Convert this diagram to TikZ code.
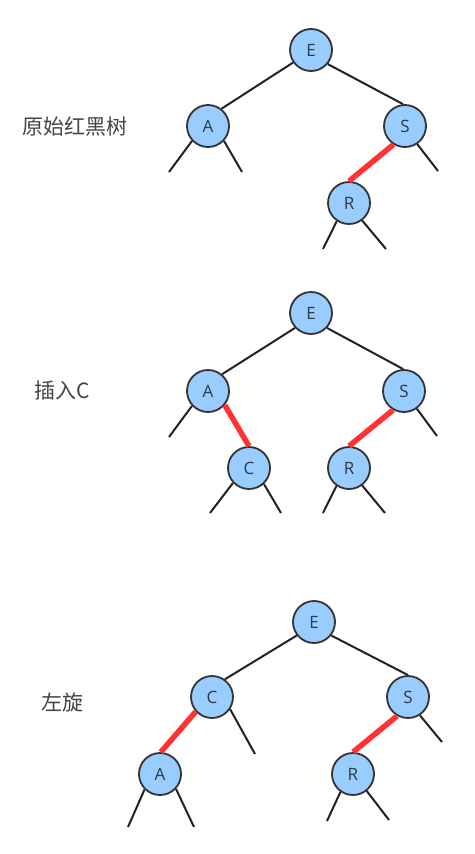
\documentclass[tikz,border=0pt]{standalone}
\usepackage{fontspec}
\setmainfont{Open Sans}
\newfontfamily\cjk{Noto Sans CJK SC}
\newfontfamily\letterfont{Open Sans}
\definecolor{nodefill}{HTML}{99CCFF}
\definecolor{nodeborder}{HTML}{333333}
\definecolor{txt}{HTML}{2E3A46}
\definecolor{edgecol}{HTML}{222222}
\definecolor{redlink}{HTML}{FF3333}
\definecolor{labelcol}{HTML}{444444}
\tikzset{
  rbnode/.style={circle, draw=nodeborder, fill=nodefill, line width=1.8pt,
    minimum size=42pt, inner sep=0pt, text=txt, font=\letterfont\fontsize{17}{19}\selectfont},
  blackedge/.style={draw=edgecol, line width=2pt},
  rededge/.style={draw=redlink, line width=5.5pt},
  caption/.style={text=labelcol, font=\cjk\fontsize{21}{24}\selectfont, inner sep=0pt}
}
\begin{document}
\begin{tikzpicture}[x=1pt,y=-1pt]
\useasboundingbox (0,0) rectangle (474,854);
\fill[white] (0,0) rectangle (474,854);

% ---------- labels ----------
\node[caption] (l1) at (75,127) {原始红黑树};
\node[caption] (l2) at (62,391) {插入C};
\node[caption] (l3) at (62,702) {左旋};

% ---------- tree 1 ----------
\node[rbnode] (e1) at (311,50) {E};
\node[rbnode] (a1) at (208,126) {A};
\node[rbnode] (s1) at (405,126) {S};
\node[rbnode] (r1) at (349,203) {R};
\coordinate (a1l) at (169,172);
\coordinate (a1r) at (242,172);
\coordinate (s1r) at (438,171);
\coordinate (r1l) at (323,249);
\coordinate (r1r) at (386,249);
\draw[blackedge] (e1.215) -- (a1.52);
\draw[blackedge] (e1.-40) -- (s1.95);
\draw[rededge] (s1.238) -- (r1.north);
\draw[blackedge] (a1.223) -- (a1l);
\draw[blackedge] (a1.-43) -- (a1r);
\draw[blackedge] (s1.-56) -- (s1r);
\draw[blackedge] (r1.236) -- (r1l);
\draw[blackedge] (r1.-53) -- (r1r);

% ---------- tree 2 ----------
\node[rbnode] (e2) at (311,313) {E};
\node[rbnode] (a2) at (208,391) {A};
\node[rbnode] (s2) at (404,391) {S};
\node[rbnode] (c2) at (249,468) {C};
\node[rbnode] (r2) at (349,468) {R};
\coordinate (a2l) at (169,437);
\coordinate (s2r) at (437,436);
\coordinate (c2l) at (210,513);
\coordinate (c2r) at (281,513);
\coordinate (r2l) at (323,513);
\coordinate (r2r) at (385,513);
\draw[blackedge] (e2.223) -- (a2.50);
\draw[blackedge] (e2.-43) -- (s2.92);
\draw[rededge] (a2.-40) -- (c2.north);
\draw[rededge] (s2.240) -- (r2.north);
\draw[blackedge] (a2.223) -- (a2l);
\draw[blackedge] (s2.-54) -- (s2r);
\draw[blackedge] (c2.223) -- (c2l);
\draw[blackedge] (c2.-47) -- (c2r);
\draw[blackedge] (r2.235) -- (r2l);
\draw[blackedge] (r2.-53) -- (r2r);

% ---------- tree 3 ----------
\node[rbnode] (e3) at (314,622) {E};
\node[rbnode] (c3) at (212,697) {C};
\node[rbnode] (s3) at (408,697) {S};
\node[rbnode] (a3) at (160,774) {A};
\node[rbnode] (r3) at (353,774) {R};
\coordinate (c3r) at (255,754);
\coordinate (s3r) at (442,742);
\coordinate (a3l) at (128,827);
\coordinate (a3r) at (194,827);
\coordinate (r3l) at (327,821);
\coordinate (r3r) at (389,820);
\draw[blackedge] (e3.218) -- (c3.54);
\draw[blackedge] (e3.-38) -- (s3.90);
\draw[rededge] (c3.222) -- (a3.88);
\draw[rededge] (s3.240) -- (r3.north);
\draw[blackedge] (c3.-34) -- (c3r);
\draw[blackedge] (s3.-57) -- (s3r);
\draw[blackedge] (a3.225) -- (a3l);
\draw[blackedge] (a3.-43) -- (a3r);
\draw[blackedge] (r3.235) -- (r3l);
\draw[blackedge] (r3.-51) -- (r3r);
\end{tikzpicture}
\end{document}
